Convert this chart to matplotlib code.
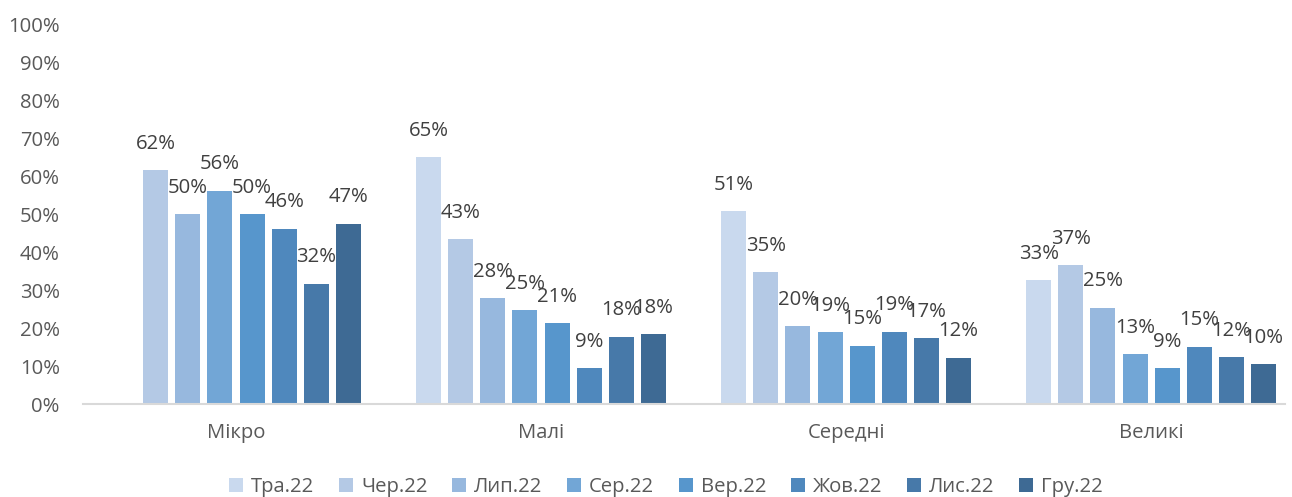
import numpy as np
import matplotlib.pyplot as plt

plt.rcParams['font.family'] = ['Open Sans', 'DejaVu Sans']

# Share of enterprises by size, monthly survey rounds (May - Dec 2022)
categories = ['Мікро', 'Малі', 'Середні', 'Великі']
months = ['Тра.22', 'Чер.22', 'Лип.22', 'Сер.22', 'Вер.22', 'Жов.22', 'Лис.22', 'Гру.22']

tra = [np.nan, 0.649, 0.508, 0.326]
cher = [0.616, 0.433, 0.347, 0.366]
lyp = [0.500, 0.278, 0.204, 0.253]
ser = [0.561, 0.247, 0.189, 0.131]
ver = [0.500, 0.212, 0.153, 0.094]
zhov = [0.461, 0.094, 0.190, 0.151]
lys = [0.317, 0.177, 0.174, 0.123]
gru = [0.474, 0.184, 0.122, 0.104]
series = [tra, cher, lyp, ser, ver, zhov, lys, gru]

colors = ['#c9d9ee', '#b4c9e5', '#97b8de', '#72a6d6',
          '#5796cc', '#4f88bd', '#4779a9', '#3e6a94']

fig = plt.figure(figsize=(12.92, 4.97), dpi=100)
ax = fig.add_axes([0.0646, 0.1871, 0.9300, 0.7646])

x = np.arange(len(categories))
slot = 0.1053
width = 0.082

for i, vals in enumerate(series):
    pos = x + (i - 3.5) * slot
    bars = ax.bar(pos, vals, width, color=colors[i], label=months[i])
    for b, v in zip(bars, vals):
        if np.isnan(v):
            continue
        ax.annotate('{:.0%}'.format(v), (b.get_x() + b.get_width() / 2, v),
                    xytext=(0, 19), textcoords='offset points',
                    ha='center', va='center', fontsize=14.6, color='#404040')

ax.set_xlim(-0.5, 3.439)
ax.set_ylim(0, 1)
ax.set_yticks(np.arange(0, 1.01, 0.1))
ax.set_yticklabels(['{:.0%}'.format(t) for t in np.arange(0, 1.01, 0.1)])
ax.set_xticks(x)
ax.set_xticklabels(categories)
ax.tick_params(axis='both', length=0, labelsize=14.6, labelcolor='#595959')
ax.tick_params(axis='y', pad=17)
ax.tick_params(axis='x', pad=14)

for s in ['top', 'right', 'left']:
    ax.spines[s].set_visible(False)
ax.spines['bottom'].set_color('#d9d9d9')
ax.spines['bottom'].set_linewidth(1.5)

fig.legend(loc='center', bbox_to_anchor=(666 / 1292, 1 - 487 / 497), ncol=8,
           frameon=False, fontsize=14.6, labelcolor='#595959',
           handlelength=0.7, handleheight=0.7, handletextpad=0.4,
           columnspacing=1.2, borderaxespad=0)

fig.savefig('out.png', dpi=100)
